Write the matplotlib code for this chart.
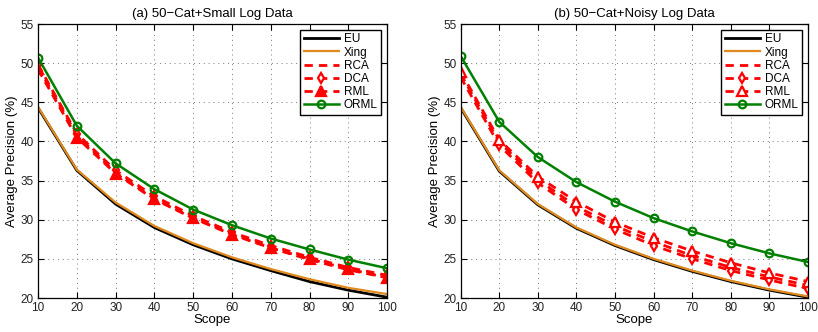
import matplotlib
matplotlib.use("Agg")
import matplotlib.pyplot as plt

plt.rcParams['font.family'] = ['Liberation Sans', 'DejaVu Sans']

scope = [10, 20, 30, 40, 50, 60, 70, 80, 90, 100]

titles = ["(a) 50\u2212Cat+Small Log Data", "(b) 50\u2212Cat+Noisy Log Data"]

# Panel (a)
eu_a   = [44.3, 36.3, 32.0, 29.0, 26.8, 25.0, 23.5, 22.1, 21.0, 20.1]
xing_a = [44.4, 36.4, 32.2, 29.2, 27.0, 25.2, 23.7, 22.4, 21.3, 20.5]
rca_a  = [49.5, 40.8, 36.0, 32.7, 30.2, 28.2, 26.4, 24.9, 23.6, 22.6]
dca_a  = [49.8, 41.0, 36.3, 33.0, 30.5, 28.4, 26.7, 25.2, 23.9, 22.9]
rml_a  = [49.2, 40.5, 35.9, 32.6, 30.2, 28.1, 26.4, 25.0, 23.7, 22.6]
orml_a = [50.7, 42.0, 37.2, 33.9, 31.3, 29.3, 27.6, 26.2, 24.9, 23.8]

# Panel (b)
eu_b   = [44.3, 36.2, 31.9, 28.9, 26.7, 24.9, 23.4, 22.1, 21.0, 20.1]
xing_b = [44.4, 36.3, 32.0, 29.0, 26.8, 25.0, 23.5, 22.2, 21.1, 20.2]
rca_b  = [48.6, 39.9, 35.1, 31.7, 29.2, 27.2, 25.4, 23.9, 22.7, 21.6]
dca_b  = [48.2, 39.5, 34.7, 31.3, 28.8, 26.7, 25.0, 23.5, 22.3, 21.2]
rml_b  = [48.9, 40.2, 35.5, 32.3, 29.7, 27.7, 26.0, 24.5, 23.2, 22.1]
orml_b = [50.9, 42.5, 38.0, 34.8, 32.3, 30.2, 28.5, 27.0, 25.7, 24.6]

panels = [
    (eu_a, xing_a, rca_a, dca_a, rml_a, orml_a, 'red'),
    (eu_b, xing_b, rca_b, dca_b, rml_b, orml_b, 'white'),
]

labels = ["EU", "Xing", "RCA", "DCA", "RML", "ORML"]
yticks = [20, 25, 30, 35, 40, 45, 50, 55]

fig = plt.figure(figsize=(8.18, 3.32), dpi=100)
rects = [[0.0465, 0.1024, 0.4267, 0.8253], [0.5632, 0.1024, 0.4246, 0.8253]]

for i, (eu, xing, rca, dca, rml, orml, trifill) in enumerate(panels):
    ax = fig.add_axes(rects[i])
    ax.plot(scope, eu, color='black', lw=2, label=labels[0])
    ax.plot(scope, xing, color='#E08A1E', lw=1.6, label=labels[1])
    ax.plot(scope, rca, color='#FF0000', lw=2, ls=(0, (3, 2.2)), label=labels[2])
    ax.plot(scope, dca, color='#FF0000', lw=2, ls=(0, (3, 2.2)), marker='d',
            ms=5, mfc='white', mec='#FF0000', mew=1.6, label=labels[3])
    ax.plot(scope, rml, color='#FF0000', lw=2, ls=(0, (3, 2.2)), marker='^',
            ms=6.5, mfc=trifill, mec='#FF0000', mew=1.6, label=labels[4])
    ax.plot(scope, orml, color='#008000', lw=1.8, marker='o', ms=5.5,
            mfc='none', mec='#008000', mew=1.6, label=labels[5])
    ax.set_xlim(10, 100)
    ax.set_ylim(20, 55)
    ax.set_xticks(scope)
    ax.set_yticks(yticks)
    ax.grid(True, color='#777777', ls=(0, (1, 4)), lw=0.7)
    ax.tick_params(direction='in', top=True, right=True, labelsize=8.5,
                   length=4, width=0.8, pad=3, labelcolor='#222222')
    for s in ax.spines.values():
        s.set_linewidth(0.9)
    ax.set_xlabel("Scope", fontsize=9.5, labelpad=0)
    ax.set_ylabel("Average Precision (%)", fontsize=9.5, labelpad=2)
    ax.set_title(titles[i], fontsize=9.5, pad=5)
    leg = ax.legend(loc='upper right', fontsize=8.5, frameon=True, fancybox=False,
                    handlelength=3.0, handletextpad=0.4, borderpad=0.3,
                    labelspacing=0.1, borderaxespad=0.5)
    leg.get_frame().set_edgecolor('black')
    leg.get_frame().set_linewidth(1.0)
    leg.get_frame().set_alpha(1.0)

fig.savefig("out.png", dpi=100)
